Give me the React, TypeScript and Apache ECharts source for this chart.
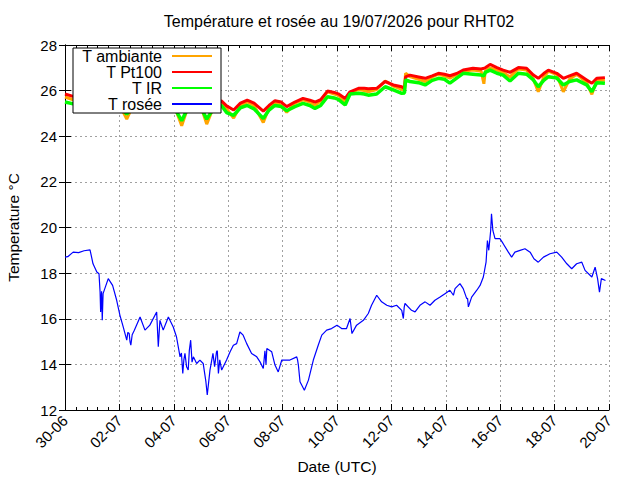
import React, { useEffect, useRef } from "react";
import * as echarts from "echarts";

// Time in days since 30-06-2026 00:00 UTC
const tempDays = [0.0, 0.3, 0.7, 1.0, 1.3, 1.7, 2.0, 2.27, 2.5, 2.8, 3.1, 3.3, 3.7, 4.0, 4.29, 4.5, 4.75, 5.0, 5.21, 5.45, 5.75, 5.94, 6.2, 6.45, 6.7, 6.95, 7.29, 7.5, 7.72, 7.95, 8.15, 8.45, 8.75, 9.0, 9.19, 9.4, 9.65, 9.9, 10.05, 10.3, 10.48, 10.79, 11.0, 11.15, 11.46, 11.77, 12.07, 12.38, 12.48, 12.52, 12.68, 13.0, 13.24, 13.5, 13.73, 13.95, 14.15, 14.4, 14.64, 15.0, 15.3, 15.4, 15.45, 15.63, 15.88, 16.11, 16.36, 16.67, 16.97, 17.22, 17.4, 17.6, 17.77, 18.08, 18.32, 18.55, 18.81, 19.18, 19.37, 19.55, 19.85];
const tPt100 = [25.85, 25.75, 25.85, 25.8, 25.6, 25.75, 25.6, 25.35, 25.5, 25.7, 25.6, 25.5, 25.7, 25.55, 25.1, 25.4, 25.65, 25.5, 25.15, 25.4, 25.55, 25.33, 25.15, 25.45, 25.58, 25.45, 25.1, 25.35, 25.56, 25.5, 25.3, 25.5, 25.66, 25.58, 25.5, 25.6, 25.98, 25.92, 25.86, 25.66, 25.95, 26.1, 26.1, 26.08, 26.1, 26.4, 26.25, 26.17, 26.1, 26.6, 26.68, 26.6, 26.54, 26.65, 26.76, 26.72, 26.65, 26.75, 26.9, 26.98, 26.95, 26.98, 27.0, 27.15, 27.01, 26.9, 26.8, 27.01, 26.98, 26.68, 26.54, 26.75, 26.9, 26.76, 26.54, 26.65, 26.76, 26.47, 26.32, 26.54, 26.57];
const tAmbiante = [25.72, 25.6, 25.8, 25.7, 25.45, 25.7, 25.4, 24.75, 25.35, 25.6, 25.5, 25.3, 25.6, 25.4, 24.46, 25.2, 25.55, 25.3, 24.53, 25.25, 25.45, 25.2, 24.8, 25.35, 25.5, 25.35, 24.6, 25.25, 25.5, 25.35, 25.05, 25.45, 25.6, 25.5, 25.35, 25.55, 25.95, 25.85, 25.8, 25.5, 25.9, 26.05, 26.0, 25.95, 26.05, 26.42, 26.2, 26.05, 26.0, 26.76, 26.62, 26.5, 26.4, 26.6, 26.72, 26.65, 26.55, 26.7, 26.85, 26.9, 26.85, 26.3, 26.85, 27.0, 26.9, 26.8, 26.6, 26.95, 26.9, 26.5, 25.95, 26.6, 26.85, 26.7, 25.95, 26.5, 26.72, 26.35, 25.84, 26.45, 26.45];
const tIR = [25.5, 25.42, 25.6, 25.55, 25.35, 25.5, 25.35, 24.97, 25.3, 25.5, 25.4, 25.25, 25.5, 25.3, 24.68, 25.2, 25.45, 25.25, 24.75, 25.2, 25.35, 25.04, 24.92, 25.25, 25.35, 25.2, 24.78, 25.15, 25.35, 25.3, 25.12, 25.3, 25.44, 25.35, 25.22, 25.35, 25.73, 25.68, 25.62, 25.37, 25.85, 25.88, 25.85, 25.8, 25.85, 26.17, 26.03, 25.88, 25.9, 26.47, 26.4, 26.35, 26.25, 26.45, 26.54, 26.5, 26.33, 26.55, 26.76, 26.72, 26.68, 26.65, 26.8, 26.9, 26.76, 26.68, 26.42, 26.76, 26.72, 26.47, 26.17, 26.45, 26.61, 26.55, 26.25, 26.4, 26.47, 26.25, 25.95, 26.35, 26.32];

const dewDays = [0.0, 0.1, 0.3, 0.5, 0.7, 0.92, 0.96, 1.03, 1.17, 1.25, 1.29, 1.31, 1.33, 1.345, 1.37, 1.4, 1.59, 1.75, 1.9, 2.02, 2.14, 2.27, 2.31, 2.36, 2.39, 2.42, 2.47, 2.55, 2.76, 2.94, 3.12, 3.37, 3.43, 3.49, 3.61, 3.8, 3.98, 4.1, 4.23, 4.28, 4.33, 4.37, 4.41, 4.47, 4.53, 4.57, 4.62, 4.67, 4.72, 4.84, 4.96, 5.08, 5.18, 5.23, 5.33, 5.44, 5.5, 5.57, 5.6, 5.64, 5.69, 5.76, 5.94, 6.07, 6.19, 6.31, 6.43, 6.55, 6.68, 6.86, 7.05, 7.17, 7.29, 7.35, 7.39, 7.42, 7.6, 7.72, 7.84, 7.97, 8.27, 8.52, 8.55, 8.58, 8.64, 8.8, 8.95, 9.13, 9.31, 9.44, 9.62, 9.8, 10.0, 10.17, 10.35, 10.48, 10.55, 10.72, 10.97, 11.15, 11.27, 11.46, 11.64, 11.83, 12.01, 12.19, 12.38, 12.44, 12.47, 12.5, 12.74, 12.87, 13.05, 13.24, 13.42, 13.6, 13.79, 13.97, 14.15, 14.28, 14.34, 14.52, 14.64, 14.77, 14.8, 14.83, 14.95, 15.14, 15.26, 15.38, 15.48, 15.53, 15.58, 15.65, 15.68, 15.73, 15.81, 15.99, 16.11, 16.3, 16.42, 16.54, 16.73, 16.91, 17.1, 17.24, 17.4, 17.59, 17.83, 18.08, 18.26, 18.45, 18.63, 18.81, 19.0, 19.12, 19.37, 19.49, 19.58, 19.65, 19.72, 19.87];
const tRosee = [18.7, 18.72, 18.92, 18.9, 18.98, 19.02, 18.8, 18.41, 18.05, 17.97, 17.17, 16.3, 16.9, 17.2, 15.93, 17.1, 17.76, 17.46, 16.81, 16.15, 15.64, 15.06, 15.4, 15.35, 15.0, 14.84, 15.3, 15.5, 16.08, 15.5, 15.72, 16.3, 14.77, 15.93, 15.5, 16.08, 15.64, 15.2, 14.33, 14.5, 13.6, 14.2, 14.48, 13.9, 13.75, 14.6, 15.06, 14.1, 14.33, 14.04, 14.19, 14.04, 13.24, 12.66, 13.75, 14.48, 13.9, 14.55, 14.6, 13.6, 14.2, 13.75, 14.19, 14.55, 14.84, 14.91, 15.42, 15.28, 14.91, 14.48, 14.33, 14.11, 13.82, 14.6, 14.0, 14.7, 14.55, 13.97, 13.67, 14.19, 14.19, 14.33, 14.2, 13.97, 13.24, 12.87, 13.31, 14.19, 14.84, 15.28, 15.5, 15.57, 15.72, 15.57, 15.57, 16.01, 15.35, 15.72, 15.93, 16.23, 16.59, 17.03, 16.74, 16.59, 16.52, 16.59, 16.37, 16.01, 16.5, 16.67, 16.37, 16.3, 16.59, 16.74, 16.59, 16.81, 16.95, 17.1, 17.25, 17.03, 17.32, 17.54, 17.32, 16.88, 16.9, 16.52, 16.95, 17.25, 17.46, 17.83, 18.48, 19.43, 19.0, 19.87, 20.6, 19.87, 19.51, 19.51, 19.29, 18.92, 18.7, 18.92, 19.0, 19.07, 18.92, 18.63, 18.48, 18.7, 18.85, 18.92, 18.7, 18.41, 18.19, 18.41, 18.48, 18.12, 17.83, 18.26, 17.76, 17.17, 17.76, 17.68];

const seriesNames = ["T ambiante", "T Pt100", "T IR", "T rosée"];
const seriesColors = ["#ffa500", "#ff0000", "#00ff00", "#0000ff"];
const titleText = "Température et rosée au 19/07/2026 pour RHT02";

const BASE = Date.UTC(2026, 5, 30);
const pad = (n: number) => (n < 10 ? "0" + n : "" + n);
const fmtDay = (v: number) => {
  const d = new Date(BASE + Math.round(v * 86400000));
  return pad(d.getUTCDate()) + "-" + pad(d.getUTCMonth() + 1);
};

const zip = (xs: number[], ys: number[]) => xs.map((x, i) => [x, ys[i]]);

const FONT = "Liberation Sans, Arial, sans-serif";

export default function App() {
  const ref = useRef<HTMLDivElement>(null);
  useEffect(() => {
    if (!ref.current) return;
    const chart = echarts.init(ref.current, undefined, { renderer: "svg" });
    const axisLine = { show: true, lineStyle: { color: "#000", width: 1 } };
    const tick = { show: true, inside: true, length: 6, lineStyle: { color: "#000" } };
    const minor = { show: true, splitNumber: 5, length: 3, lineStyle: { color: "#000" } };
    const grid = { show: true, lineStyle: { color: "#a0a0a0", type: [2, 3], width: 1 } };
    const temps = [tAmbiante, tPt100, tIR];
    const widths = [3, 3, 3.5];
    chart.setOption({
      animation: false,
      backgroundColor: "#fff",
      textStyle: { fontFamily: FONT },
      grid: { left: 65, right: 31, top: 45, bottom: 70, containLabel: false, outerBoundsMode: "none" },
      graphic: [
        {
          type: "text",
          x: 339,
          y: 21,
          style: { text: titleText, textAlign: "center", textVerticalAlign: "middle", font: "16px " + FONT, fill: "#000" },
        },
      ],
      legend: {
        orient: "vertical",
        left: 73,
        top: 48,
        align: "right",
        backgroundColor: "#fff",
        borderColor: "#000",
        borderWidth: 1,
        borderRadius: 0,
        padding: [0, 9, 1, 6],
        itemGap: 0,
        itemWidth: 40,
        itemHeight: 2,
        textStyle: { fontSize: 16, color: "#000", fontFamily: FONT, width: 83, align: "right", lineHeight: 15, padding: [0, 5, 0, 0] },
        data: seriesNames.map((n) => ({ name: n, icon: "rect" })),
        selectedMode: false,
        z: 10,
      },
      xAxis: [
        {
          type: "value",
          min: 0,
          max: 20,
          interval: 2,
          position: "bottom",
          axisLine,
          axisTick: tick,
          minorTick: minor,
          splitLine: grid,
          axisLabel: { rotate: 45, color: "#000", fontSize: 15, margin: 8, formatter: fmtDay, fontFamily: FONT },
          name: "Date (UTC)",
          nameLocation: "middle",
          nameGap: 48,
          nameTextStyle: { fontSize: 15.5, color: "#000", fontFamily: FONT },
        },
        {
          type: "value",
          min: 0,
          max: 20,
          interval: 2,
          position: "top",
          axisLine,
          axisTick: tick,
          minorTick: minor,
          splitLine: { show: false },
          axisLabel: { show: false },
        },
      ],
      yAxis: [
        {
          type: "value",
          min: 12,
          max: 28,
          interval: 2,
          position: "left",
          axisLine,
          axisTick: tick,
          splitLine: grid,
          axisLabel: { color: "#000", fontSize: 15, margin: 8, fontFamily: FONT },
          name: "Temperature °C",
          nameLocation: "middle",
          nameRotate: 90,
          nameGap: 44,
          nameTextStyle: { fontSize: 15.5, color: "#000", fontFamily: FONT },
        },
        {
          type: "value",
          min: 12,
          max: 28,
          interval: 2,
          position: "right",
          axisLine,
          axisTick: tick,
          splitLine: { show: false },
          axisLabel: { show: false },
        },
      ],
      series: [
        ...temps.map((vals, i) => ({
          name: seriesNames[i],
          type: "line",
          data: zip(tempDays, vals),
          showSymbol: false,
          symbol: "none",
          color: seriesColors[i],
          lineStyle: { color: seriesColors[i], width: widths[i] },
          xAxisIndex: 0,
          yAxisIndex: 0,
        })),
        {
          name: seriesNames[3],
          type: "line",
          data: zip(dewDays, tRosee),
          showSymbol: false,
          symbol: "none",
          color: seriesColors[3],
          lineStyle: { color: seriesColors[3], width: 1.2 },
          xAxisIndex: 0,
          yAxisIndex: 0,
        },
      ],
    });
    return () => chart.dispose();
  }, []);
  return <div ref={ref} style={{ position: "fixed", left: 0, top: 0, width: 640, height: 480 }} />;
}
